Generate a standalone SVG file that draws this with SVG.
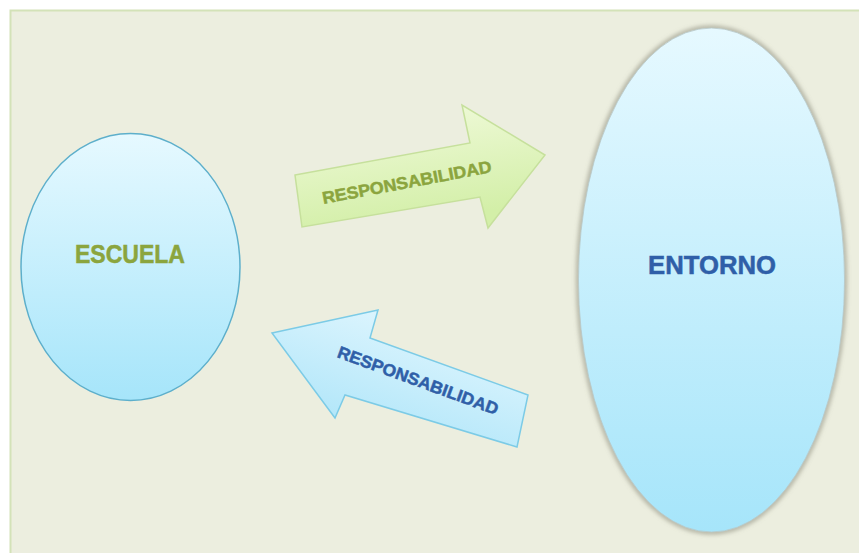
<svg xmlns="http://www.w3.org/2000/svg" width="859" height="553" viewBox="0 0 859 553">
<defs>
<style>
.lbl{font-family:"Liberation Sans","DejaVu Sans",sans-serif;font-weight:bold;text-anchor:middle;stroke-width:0.5}
</style>
<linearGradient id="gEll" x1="0" y1="0" x2="0" y2="1">
<stop offset="0" stop-color="#E6F9FF"/>
<stop offset="1" stop-color="#A6E5FA"/>
</linearGradient>
<linearGradient id="gGreen" x1="0" y1="0" x2="0.3" y2="1">
<stop offset="0" stop-color="#F3FBDF"/>
<stop offset="1" stop-color="#D3EFA8"/>
</linearGradient>
<linearGradient id="gBlue" x1="0.2" y1="1" x2="0.8" y2="0">
<stop offset="0" stop-color="#A8E3F8"/>
<stop offset="1" stop-color="#E6F8FF"/>
</linearGradient>
<filter id="shadow" x="-10%" y="-10%" width="120%" height="120%">
<feGaussianBlur stdDeviation="2.5"/>
</filter>
</defs>
<rect x="0" y="0" width="859" height="553" fill="#FFFFFF"/>
<rect x="10" y="10" width="849" height="543" fill="#ECEEDF"/>
<path d="M10.5 553 V10.5 H859" fill="none" stroke="#D3E2B8" stroke-width="2"/>

<g id="connectors">
<g id="arrow-top">
<polygon points="295,175 470,143 462,105 545,155 488,228 480,197 302,227" fill="url(#gGreen)" stroke="#C6E09C" stroke-width="1.5" stroke-linejoin="miter"/>
<text class="lbl" x="408" y="188" font-size="17" fill="#8BA53E" stroke="#8BA53E" textLength="172" lengthAdjust="spacingAndGlyphs" transform="rotate(-10.7 408 188)">RESPONSABILIDAD</text>
</g>
<g id="arrow-bottom">
<polygon points="272,333 378,310 370,338 528,395 517,447 345,395 335,418" fill="url(#gBlue)" stroke="#7CCBE6" stroke-width="1.5" stroke-linejoin="miter"/>
<text class="lbl" x="416" y="386" font-size="17" fill="#2F5FA8" stroke="#2F5FA8" textLength="170" lengthAdjust="spacingAndGlyphs" transform="rotate(20 416 386)">RESPONSABILIDAD</text>
</g>
</g>

<g id="escuela">
<ellipse cx="130.5" cy="267" rx="109.5" ry="133.5" fill="url(#gEll)" stroke="#5DAFCB" stroke-width="1.5"/>
<text class="lbl" x="130" y="263" font-size="25" fill="#8BA53E" stroke="#8BA53E" textLength="110" lengthAdjust="spacingAndGlyphs">ESCUELA</text>
</g>

<g id="entorno">
<ellipse cx="711.5" cy="280" rx="133" ry="252" fill="none" stroke="#8A8A7A" stroke-width="3" filter="url(#shadow)"/>
<ellipse cx="711.5" cy="280" rx="133" ry="252" fill="url(#gEll)" stroke="#B8C8C8" stroke-width="0.8"/>
<text class="lbl" x="712" y="274" font-size="25" fill="#2F5FA8" stroke="#2F5FA8" textLength="128" lengthAdjust="spacingAndGlyphs">ENTORNO</text>
</g>
</svg>
